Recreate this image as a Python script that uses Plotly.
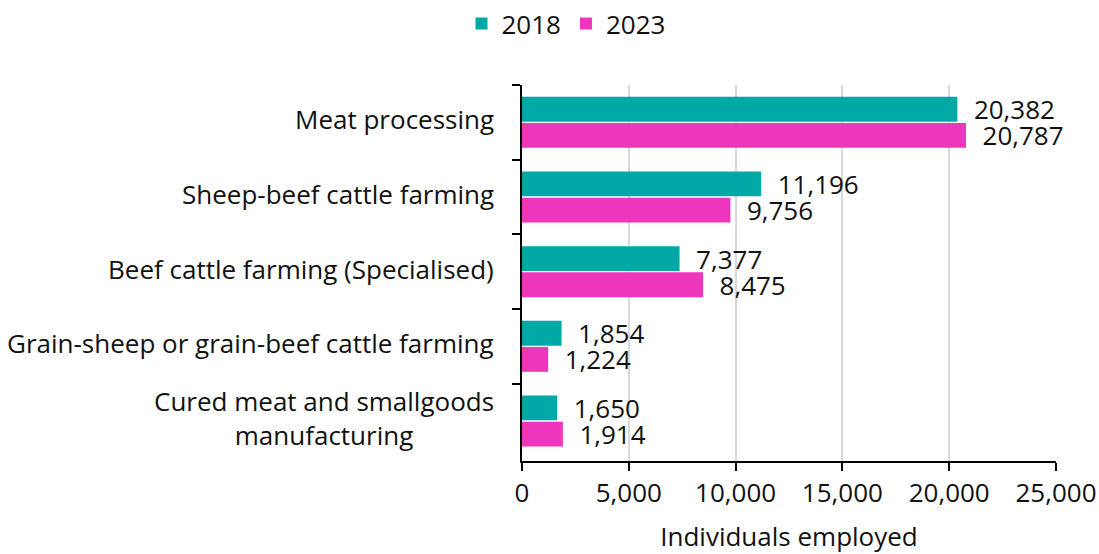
import plotly.graph_objects as go

categories = [
    "Meat processing",
    "Sheep-beef cattle farming",
    "Beef cattle farming (Specialised)",
    "Grain-sheep or grain-beef cattle farming",
    "Cured meat and smallgoods<br>manufacturing",
]
values_2018 = [20382, 11196, 7377, 1854, 1650]
values_2023 = [20787, 9756, 8475, 1224, 1914]
series_names = ["2018", "2023"]
x_ticks = [0, 5000, 10000, 15000, 20000, 25000]
x_title = "Individuals employed"

colors = ["#00A9A5", "#EE36BC"]
FONT = "Open Sans"
FS = 26

fig = go.Figure()
for name, vals, col in zip(series_names, [values_2018, values_2023], colors):
    fig.add_trace(go.Bar(
        y=categories, x=vals, name=name, orientation="h",
        marker=dict(color=col, line=dict(width=0)),
        text=vals,
        texttemplate="\u00a0\u00a0%{x:,.0f}",
        textposition="outside",
        constraintext="none",
        textfont=dict(family=FONT, size=FS, color="#111111"),
        cliponaxis=False,
    ))

for c in categories:
    fig.add_annotation(
        x=0, xref="paper", y=c, yref="y", text=c, showarrow=False,
        xanchor="right", yanchor="middle", align="center", xshift=-26, yshift=3,
        font=dict(family=FONT, size=FS, color="#111111"),
    )

fig.update_layout(
    width=1099, height=554,
    margin=dict(l=522, r=43, t=85, b=93, autoexpand=False),
    paper_bgcolor="white", plot_bgcolor="white",
    barmode="group", bargap=0.3, bargroupgap=0.05,
    font=dict(family=FONT, size=FS, color="#111111"),
    showlegend=True,
    legend=dict(orientation="h", x=0.515, xanchor="center", xref="container",
                y=1.0, yref="container", yanchor="top",
                font=dict(family=FONT, size=FS), itemwidth=30),
)
fig.update_xaxes(
    range=[0, 25000], tickvals=x_ticks, tickformat=",",
    showgrid=True, gridcolor="#d9d9d9", gridwidth=2,
    showline=True, linecolor="black", linewidth=2,
    ticks="outside", ticklen=8, tickwidth=2, tickcolor="black",
    zeroline=False, automargin=False,
    title=dict(text=x_title, standoff=26, font=dict(family=FONT, size=FS)),
    tickfont=dict(family=FONT, size=FS),
)
fig.update_yaxes(
    autorange="reversed", showticklabels=False, automargin=False,
    tickson="boundaries", ticks="outside", ticklen=8, tickwidth=2, tickcolor="black",
    showline=True, linecolor="black", linewidth=2, showgrid=False,
)
fig.write_html("out.html")
